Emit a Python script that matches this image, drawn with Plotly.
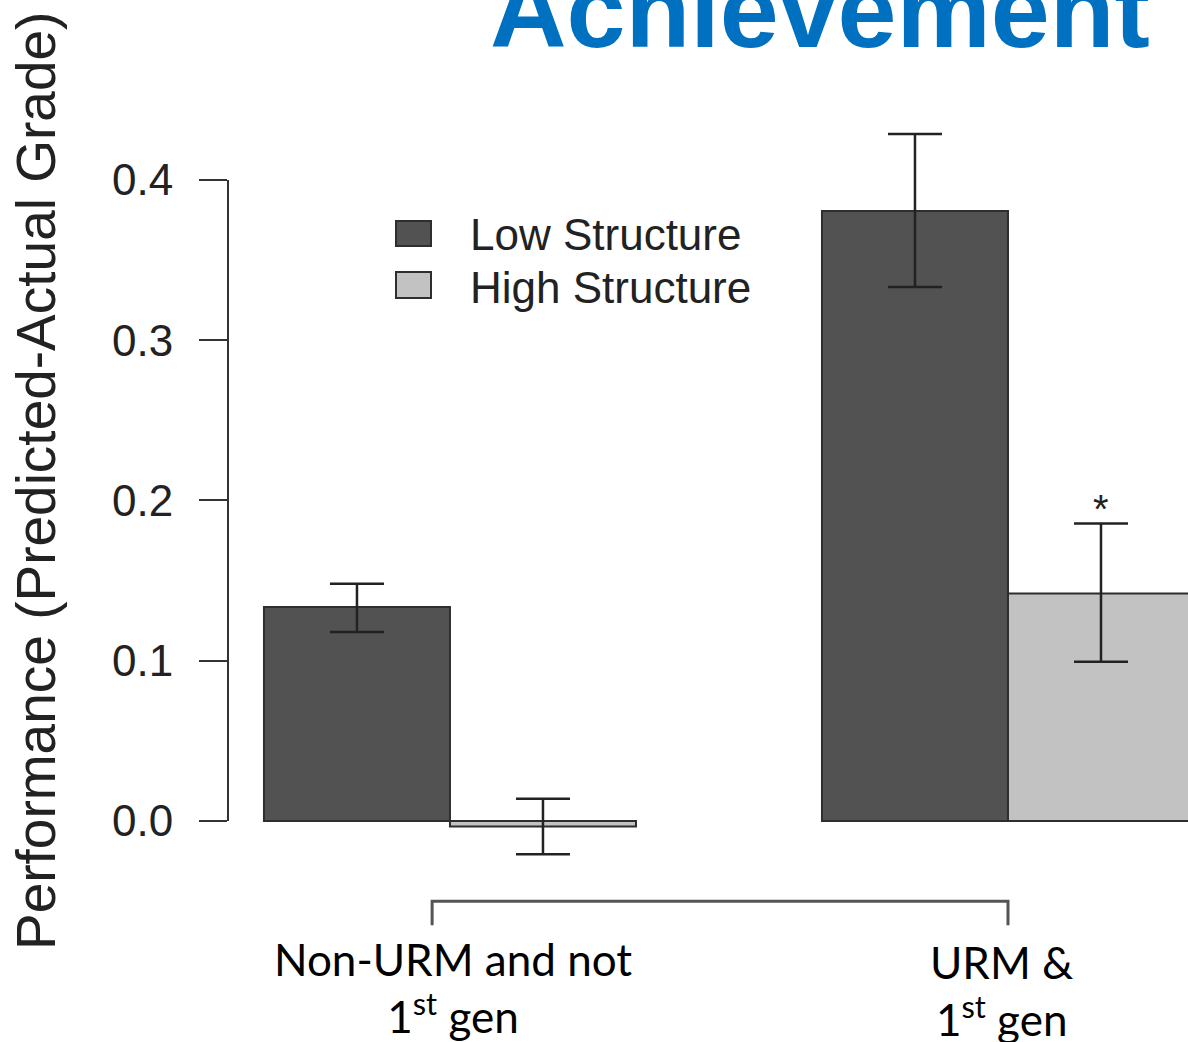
import plotly.graph_objects as go

# ---- data ----
groups = ["Non-URM and not 1st gen", "URM & 1st gen"]
group_labels = ["Non-URM and not<br>1<sup>st</sup> gen", "URM &<br>1<sup>st</sup> gen"]
series_names = ["Low Structure", "High Structure"]
low_values = [0.1335, 0.3807]
low_err_plus = [0.0145, 0.0480]
low_err_minus = [0.0155, 0.0475]
high_values = [-0.0035, 0.1420]
high_err_plus = [0.0174, 0.0436]
high_err_minus = [0.0173, 0.0427]
significance = ["", "*"]
y_ticks = [0.0, 0.1, 0.2, 0.3, 0.4]
y_tick_labels = ["0.0", "0.1", "0.2", "0.3", "0.4"]
title_text = "Achievement"
y_title = "Performance (Predicted-Actual Grade)"

DARK = "#525252"
LIGHT = "#c2c2c2"
EDGE = "#2e2e2e"
TXT = "#222222"

W, H = 1188, 1042
L = 228  # left margin in px


def px(x):
    return (x - L) / (W - L)


def py(y):
    return 1 - y / H


fig = go.Figure()
fig.add_trace(go.Bar(
    x=groups, y=low_values, name=series_names[0],
    marker=dict(color=DARK, line=dict(color=EDGE, width=2)),
    error_y=dict(type="data", array=low_err_plus, arrayminus=low_err_minus,
                 color=TXT, thickness=2.5, width=27),
    showlegend=False, hoverinfo="skip",
))
fig.add_trace(go.Bar(
    x=groups, y=high_values, name=series_names[1],
    marker=dict(color=LIGHT, line=dict(color=EDGE, width=2)),
    error_y=dict(type="data", array=high_err_plus, arrayminus=high_err_minus,
                 color=TXT, thickness=2.5, width=27),
    showlegend=False, hoverinfo="skip",
))

shapes = []
# y axis line from 0 to 0.4 (R style)
shapes.append(dict(type="line", xref="paper", yref="y", x0=0, x1=0,
                   y0=y_ticks[0], y1=y_ticks[-1], line=dict(color="#333333", width=2)))
# bracket under groups
shapes.append(dict(type="path", xref="x", yref="y",
                   path="M -0.032,-0.065 L -0.032,-0.05 L 1,-0.05 L 1,-0.065",
                   line=dict(color="#555555", width=3)))
# legend keys
shapes.append(dict(type="rect", xref="paper", yref="paper",
                   x0=px(396), x1=px(431), y0=py(246), y1=py(221),
                   fillcolor=DARK, line=dict(color=EDGE, width=2)))
shapes.append(dict(type="rect", xref="paper", yref="paper",
                   x0=px(396), x1=px(431), y0=py(298), y1=py(272),
                   fillcolor=LIGHT, line=dict(color=EDGE, width=2)))

annotations = []
# legend text
for name, ymid in zip(series_names, [234, 287]):
    annotations.append(dict(text=name, xref="paper", yref="paper", x=px(468), y=py(ymid),
                            xanchor="left", yanchor="middle", showarrow=False,
                            font=dict(family="Liberation Sans, Arial", size=44, color=TXT)))
# group labels
for i, lab in enumerate(group_labels):
    annotations.append(dict(text=lab, xref="x", yref="y", x=i + (0.005 if i == 0 else -0.012),
                            y=-0.104 if i == 0 else -0.106,
                            xanchor="center", yanchor="middle", showarrow=False,
                            font=dict(family="Lato, Carlito, Calibri", size=44, color="#000000")))
# significance markers
for i, s in enumerate(significance):
    if s:
        annotations.append(dict(text=s, xref="x", yref="y", x=i + 1 / 6,
                                y=high_values[i] + high_err_plus[i] + 0.009,
                                xanchor="center", yanchor="middle", showarrow=False,
                                font=dict(family="Liberation Sans, Arial", size=40, color=TXT)))
# y axis title
annotations.append(dict(text=y_title, xref="paper", yref="paper", x=px(36), y=py(481),
                        textangle=-90, xanchor="center", yanchor="middle", showarrow=False,
                        font=dict(family="Liberation Sans, Arial", size=55, color=TXT)))
# cut-off title
annotations.append(dict(text="<b>" + title_text + "</b>", xref="paper", yref="paper",
                        x=px(820), y=py(10), xanchor="center", yanchor="middle",
                        showarrow=False,
                        font=dict(family="Liberation Sans, Arial", size=106, color="#0070c0")))

fig.update_layout(
    width=W, height=H,
    margin=dict(l=L, r=0, t=0, b=0),
    paper_bgcolor="white", plot_bgcolor="white",
    barmode="group", bargap=1 / 3, bargroupgap=0,
    shapes=shapes, annotations=annotations,
    hovermode=False,
    xaxis=dict(type="category", range=[-0.3978, 1.3226], showticklabels=False,
               ticks="", showline=False, showgrid=False, zeroline=False, fixedrange=True),
    yaxis=dict(range=[-0.1379, 0.5123], tickvals=y_ticks, ticktext=y_tick_labels,
               ticks="outside", ticklen=28, tickwidth=2, tickcolor="#333333",
               ticklabelstandoff=17,
               tickfont=dict(family="Liberation Sans, Arial", size=44, color=TXT),
               showline=False, showgrid=False, zeroline=False, fixedrange=True),
)

fig.write_html("out.html", config={"displayModeBar": False},
               post_script="document.body.style.margin='0';document.body.style.overflow='hidden';")
